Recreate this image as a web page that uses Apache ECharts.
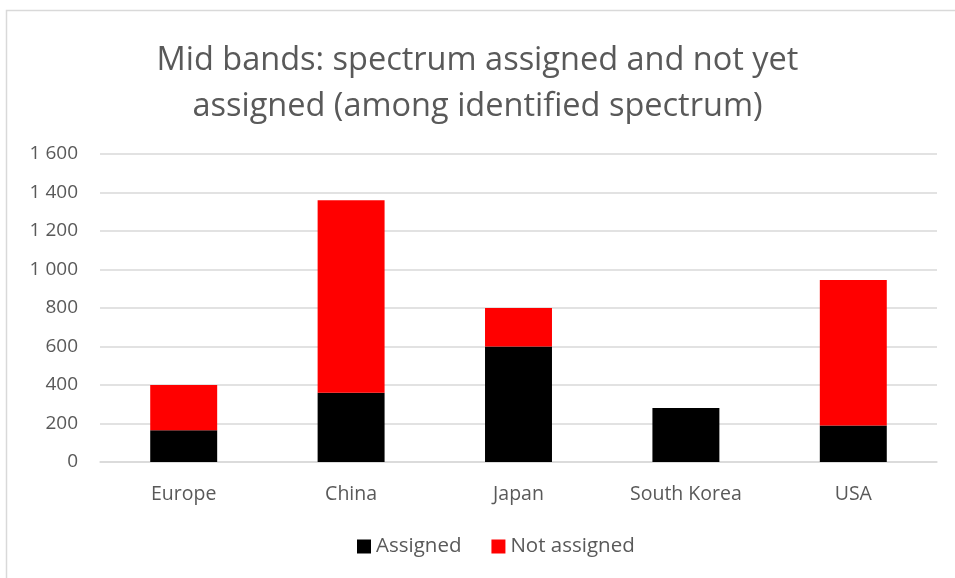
<!DOCTYPE html>
<html><head><meta charset="utf-8">
<script src="https://cdn.jsdelivr.net/npm/echarts@6/dist/echarts.min.js"></script>
<style>html,body{margin:0;padding:0;background:#fff}#c{width:955px;height:578px}</style>
</head><body><div id="c"></div>
<script>
const categories = ["Europe", "China", "Japan", "South Korea", "USA"];
const assigned = [165, 360, 600, 280, 190];
const notAssigned = [235, 1000, 200, 0, 755];
const yTicks = [0, 200, 400, 600, 800, 1000, 1200, 1400, 1600];

const FONT = "Open Sans";
const chart = echarts.init(document.getElementById('c'));
chart.setOption({
  animation: false,
  textStyle: { fontFamily: FONT },
  graphic: [{
    type: 'rect', shape: { x: 6.5, y: 10.5, width: 1000, height: 700 },
    style: { fill: 'none', stroke: '#d9d9d9', lineWidth: 1.5 }, silent: true
  }],
  title: {
    text: 'Mid bands: spectrum assigned and not yet\nassigned (among identified spectrum)',
    left: 'center', top: 33,
    textStyle: { fontFamily: FONT, fontSize: 32.5, fontWeight: 'normal', color: '#595959', lineHeight: 46 }
  },
  legend: {
    bottom: 16, left: 352, itemWidth: 14, itemHeight: 14, itemGap: 30,
    icon: 'rect',
    textStyle: { fontFamily: FONT, fontSize: 20.5, color: '#595959', padding: [0, 0, 0, 0] },
    data: ['Assigned', 'Not assigned']
  },
  grid: { left: 100, right: 18, top: 154, bottom: 116 },
  xAxis: {
    type: 'category', data: categories,
    axisLine: { lineStyle: { color: '#d9d9d9', width: 1.5 } },
    axisTick: { show: false },
    axisLabel: { fontFamily: FONT, fontSize: 19.5, color: '#595959', margin: 22 }
  },
  yAxis: {
    type: 'value', min: yTicks[0], max: yTicks[yTicks.length - 1], interval: 200,
    axisLine: { show: false }, axisTick: { show: false },
    splitLine: { lineStyle: { color: '#d9d9d9', width: 1.5 } },
    axisLabel: {
      fontFamily: FONT, fontSize: 19, color: '#595959', margin: 22,
      formatter: v => String(v).replace(/\B(?=(\d{3})+(?!\d))/g, ' ')
    }
  },
  series: [
    { name: 'Assigned', type: 'bar', stack: 's', data: assigned, barWidth: '40%',
      itemStyle: { color: '#000000' } },
    { name: 'Not assigned', type: 'bar', stack: 's', data: notAssigned, barWidth: '40%',
      itemStyle: { color: '#ff0000' } }
  ]
});
</script></body></html>
